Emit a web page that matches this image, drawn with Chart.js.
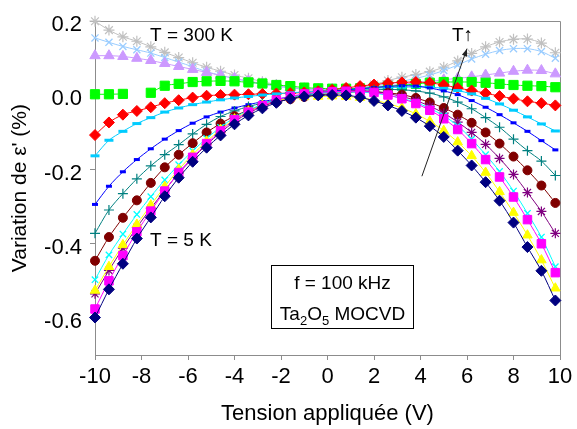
<!DOCTYPE html>
<html>
<head>
<meta charset="utf-8">
<script src="https://cdn.jsdelivr.net/npm/chart.js@4"></script>
<style>
  html, body { margin: 0; padding: 0; background: #fff; }
  canvas { display: block; }
</style>
</head>
<body>
<canvas id="chart" width="577" height="429"></canvas>
<script>
// applied voltage (V)
const tension = [-10, -9.4, -8.8, -8.2, -7.6, -7.0, -6.4, -5.8, -5.2, -4.6, -4.0, -3.4,
  -2.8, -2.2, -1.6, -1.0, -0.4, 0.2, 0.8, 1.4, 2.0, 2.6, 3.2, 3.8, 4.4, 5.0, 5.6, 6.2,
  6.8, 7.4, 8.0, 8.6, 9.2, 9.8];

const xTicks = [-10, -8, -6, -4, -2, 0, 2, 4, 6, 8, 10];
const yTicks = [-0.6, -0.4, -0.2, 0, 0.2];

// variation of eps' (%), from T = 5 K (s1) up to T = 300 K (s14)
const s1 = [-0.599, -0.523, -0.454, -0.386, -0.329, -0.272, -0.222, -0.179, -0.141, -0.108,
  -0.078, -0.054, -0.035, -0.020, -0.009, -0.003, 0.000, 0.001, 0.000, -0.005,
  -0.015, -0.027, -0.042, -0.060, -0.083, -0.112, -0.149, -0.189, -0.234, -0.284,
  -0.343, -0.409, -0.473, -0.553];
const s2 = [-0.576, -0.500, -0.432, -0.368, -0.312, -0.258, -0.208, -0.167, -0.130, -0.096,
  -0.066, -0.045, -0.028, -0.013, -0.003, 0.004, 0.008, 0.010, 0.011, 0.011,
  0.008, 0.001, -0.009, -0.022, -0.040, -0.063, -0.092, -0.130, -0.173, -0.220,
  -0.274, -0.335, -0.400, -0.478];
const s3 = [-0.526, -0.462, -0.403, -0.348, -0.296, -0.246, -0.200, -0.160, -0.124, -0.092,
  -0.064, -0.043, -0.027, -0.015, -0.007, -0.004, -0.003, -0.002, -0.003, -0.006,
  -0.013, -0.022, -0.034, -0.050, -0.070, -0.095, -0.126, -0.163, -0.208, -0.260,
  -0.316, -0.377, -0.444, -0.520];
const s4 = [-0.497, -0.430, -0.374, -0.321, -0.273, -0.228, -0.187, -0.150, -0.116, -0.086,
  -0.060, -0.040, -0.024, -0.013, -0.005, 0.002, 0.006, 0.008, 0.009, 0.009,
  0.006, 0.000, -0.008, -0.019, -0.035, -0.055, -0.082, -0.118, -0.160, -0.205,
  -0.258, -0.318, -0.382, -0.462];
const s5 = [-0.535, -0.472, -0.412, -0.356, -0.305, -0.256, -0.210, -0.170, -0.133, -0.100,
  -0.071, -0.048, -0.030, -0.016, -0.005, 0.002, 0.007, 0.010, 0.012, 0.012,
  0.010, 0.005, -0.003, -0.014, -0.029, -0.048, -0.072, -0.100, -0.132, -0.170,
  -0.213, -0.262, -0.313, -0.372];
const s6 = [-0.446, -0.382, -0.330, -0.283, -0.236, -0.194, -0.160, -0.129, -0.100, -0.076,
  -0.056, -0.040, -0.028, -0.018, -0.010, -0.004, 0.001, 0.005, 0.008, 0.010,
  0.010, 0.007, 0.002, -0.007, -0.019, -0.034, -0.052, -0.074, -0.100, -0.130,
  -0.165, -0.202, -0.243, -0.290];
const s7 = [-0.372, -0.309, -0.265, -0.225, -0.190, -0.160, -0.133, -0.104, -0.078, -0.057,
  -0.042, -0.030, -0.021, -0.013, -0.006, 0.000, 0.005, 0.009, 0.012, 0.014,
  0.015, 0.016, 0.015, 0.012, 0.006, -0.004, -0.018, -0.036, -0.060, -0.086,
  -0.118, -0.149, -0.177, -0.216];
const s8 = [-0.294, -0.245, -0.206, -0.173, -0.144, -0.118, -0.095, -0.075, -0.058, -0.045,
  -0.034, -0.025, -0.017, -0.010, -0.004, 0.002, 0.007, 0.011, 0.015, 0.018,
  0.021, 0.024, 0.026, 0.025, 0.020, 0.012, 0.002, -0.014, -0.032, -0.052,
  -0.074, -0.097, -0.122, -0.147];
const s9 = [-0.163, -0.121, -0.097, -0.076, -0.060, -0.045, -0.034, -0.025, -0.018, -0.012,
  -0.007, -0.003, 0.001, 0.004, 0.007, 0.009, 0.011, 0.013, 0.015, 0.017,
  0.019, 0.021, 0.022, 0.023, 0.022, 0.019, 0.013, 0.004, -0.008, -0.023,
  -0.040, -0.058, -0.077, -0.096];
const s10 = [-0.107, -0.073, -0.052, -0.042, -0.032, -0.021, -0.013, -0.006, -0.001, 0.001,
  0.002, 0.003, 0.004, 0.005, 0.006, 0.008, 0.011, 0.015, 0.020, 0.025,
  0.029, 0.033, 0.035, 0.036, 0.034, 0.028, 0.020, 0.013, 0.006, -0.002,
  -0.009, -0.016, -0.021, -0.027];
const s11 = [0.003, 0.003, 0.004, null, 0.007, 0.026, 0.031, 0.036, 0.038, 0.039,
  0.038, 0.035, 0.032, 0.028, 0.025, 0.021, 0.019, 0.018, 0.018, 0.019,
  0.021, 0.024, 0.027, 0.031, 0.034, 0.036, 0.036, 0.036, 0.034, 0.031,
  0.028, 0.026, 0.025, 0.022];
const s12 = [0.107, 0.107, 0.105, 0.100, 0.094, 0.086, 0.078, 0.070, 0.062, 0.054,
  0.046, 0.039, 0.032, 0.026, 0.021, 0.018, 0.016, 0.016, 0.017, 0.019,
  0.022, 0.026, 0.030, 0.034, 0.038, 0.042, 0.046, 0.050, 0.055, 0.060,
  0.065, 0.068, 0.067, 0.058];
const s13 = [0.155, 0.143, 0.132, 0.123, 0.114, 0.102, 0.090, 0.077, 0.064, 0.054,
  0.045, 0.037, 0.030, 0.024, 0.020, 0.017, 0.016, 0.016, 0.018, 0.021,
  0.025, 0.031, 0.038, 0.046, 0.055, 0.067, 0.082, 0.098, 0.111, 0.121,
  0.126, 0.126, 0.118, 0.100];
const s14 = [0.200, 0.176, 0.158, 0.146, 0.131, 0.116, 0.102, 0.088, 0.076, 0.065,
  0.055, 0.046, 0.037, 0.029, 0.022, 0.016, 0.012, 0.011, 0.013, 0.019,
  0.029, 0.040, 0.049, 0.056, 0.064, 0.076, 0.093, 0.113, 0.131, 0.144,
  0.151, 0.152, 0.141, 0.115];

const series = [s1, s2, s3, s4, s5, s6, s7, s8, s9, s10, s11, s12, s13, s14];

// colour, marker, marker radius, marker line width
const looks = [
  ['#000080', 'rectRot', 5.5, 1],
  ['#FF00FF', 'rect', 6, 1],
  ['#FFFF00', 'triangle', 5.5, 1],
  ['#00FFFF', 'crossRot', 4.5, 1.3],
  ['#800080', 'star', 5, 1.2],
  ['#800000', 'circle', 4.5, 1],
  ['#008080', 'cross', 5, 1.2],
  ['#0000FF', 'line', 3, 3],
  ['#00CCFF', 'line', 4.5, 3],
  ['#FF0000', 'rectRot', 5.5, 1],
  ['#00FF00', 'rect', 6.5, 1],
  ['#CC99FF', 'triangle', 6, 1],
  ['#99CCFF', 'crossRot', 5, 1.3],
  ['#C0C0C0', 'star', 5.5, 1.2]
];

const fontFamily = "'Liberation Sans', Arial, sans-serif";
const axisColor = '#8c8c8c';
Chart.defaults.font.family = fontFamily;
Chart.defaults.color = '#000';

const datasets = series.map((vals, i) => {
  const [color, marker, radius, lw] = looks[i];
  return {
    label: 'serie ' + (i + 1),
    data: vals.map((v, k) => ({ x: tension[k], y: v })),
    borderColor: color,
    backgroundColor: color,
    borderWidth: 1,
    pointStyle: marker,
    pointRadius: radius,
    pointBorderWidth: lw,
    pointBackgroundColor: color,
    pointBorderColor: color,
    tension: 0.3,
    spanGaps: false,
    clip: false
  };
});

const annotate = {
  id: 'annotate',
  beforeDatasetsDraw(chart) {
    const { ctx, chartArea: a } = chart;
    ctx.save();
    ctx.strokeStyle = axisColor;
    ctx.lineWidth = 1;
    ctx.beginPath();
    ctx.moveTo(a.left, Math.round(a.top) + 0.5);
    ctx.lineTo(Math.round(a.right) + 0.5, Math.round(a.top) + 0.5);
    ctx.lineTo(Math.round(a.right) + 0.5, a.bottom);
    ctx.stroke();
    ctx.restore();
  },
  afterDraw(chart) {
    const { ctx, scales: { x, y } } = chart;
    ctx.save();
    ctx.fillStyle = '#000';
    ctx.font = '19px ' + fontFamily;
    ctx.textBaseline = 'middle';
    ctx.textAlign = 'left';
    ctx.fillText('T = 300 K', x.getPixelForValue(-7.63), y.getPixelForValue(0.160));
    ctx.fillText('T = 5 K', x.getPixelForValue(-7.63), y.getPixelForValue(-0.393));
    ctx.fillText('T\u2191', x.getPixelForValue(5.35), y.getPixelForValue(0.162));

    // arrow
    const x0 = x.getPixelForValue(4.06), y0 = y.getPixelForValue(-0.218);
    const x1 = x.getPixelForValue(6.0), y1 = y.getPixelForValue(0.126);
    ctx.strokeStyle = '#222';
    ctx.lineWidth = 1;
    ctx.beginPath();
    ctx.moveTo(x0, y0);
    ctx.lineTo(x1, y1);
    ctx.stroke();
    const ang = Math.atan2(y1 - y0, x1 - x0);
    ctx.fillStyle = '#222';
    ctx.beginPath();
    ctx.moveTo(x1, y1);
    ctx.lineTo(x1 - 8 * Math.cos(ang - 0.35), y1 - 8 * Math.sin(ang - 0.35));
    ctx.lineTo(x1 - 8 * Math.cos(ang + 0.35), y1 - 8 * Math.sin(ang + 0.35));
    ctx.closePath();
    ctx.fill();

    // box
    const bx0 = Math.round(x.getPixelForValue(-2.43)) + 0.5;
    const bx1 = Math.round(x.getPixelForValue(3.68)) + 0.5;
    const by0 = Math.round(y.getPixelForValue(-0.456)) + 0.5;
    const by1 = Math.round(y.getPixelForValue(-0.626)) + 0.5;
    ctx.fillStyle = '#fff';
    ctx.fillRect(bx0, by0, bx1 - bx0, by1 - by0);
    ctx.strokeStyle = '#000';
    ctx.strokeRect(bx0, by0, bx1 - bx0, by1 - by0);
    const cx = (bx0 + bx1) / 2;
    ctx.fillStyle = '#000';
    ctx.textAlign = 'center';
    ctx.fillText('f = 100 kHz', cx, y.getPixelForValue(-0.507));

    const parts = [['Ta', false], ['2', true], ['O', false], ['5', true], [' MOCVD', false]];
    const big = '19px ' + fontFamily, small = '13px ' + fontFamily;
    let w = 0;
    parts.forEach(([t, sub]) => { ctx.font = sub ? small : big; w += ctx.measureText(t).width; });
    let px = cx - w / 2;
    const base = y.getPixelForValue(-0.586) + 7;
    ctx.textAlign = 'left';
    ctx.textBaseline = 'alphabetic';
    parts.forEach(([t, sub]) => {
      ctx.font = sub ? small : big;
      ctx.fillText(t, px, sub ? base + 5 : base);
      px += ctx.measureText(t).width;
    });
    ctx.restore();
  }
};

new Chart(document.getElementById('chart'), {
  type: 'line',
  data: { datasets },
  options: {
    responsive: false,
    animation: false,
    layout: { padding: { top: 15, right: 17, left: 0, bottom: 0 } },
    plugins: { legend: { display: false }, tooltip: { enabled: false } },
    scales: {
      x: {
        type: 'linear',
        min: -10,
        max: 10,
        afterBuildTicks: s => { s.ticks = xTicks.map(v => ({ value: v })); },
        afterFit: s => { s.height = 74; },
        grid: { drawOnChartArea: false, tickLength: 5, color: axisColor },
        border: { color: axisColor },
        ticks: { font: { size: 22 }, color: '#000', padding: 4, autoSkip: false, maxRotation: 0 },
        title: { display: true, text: 'Tension appliquée (V)', font: { size: 22 }, color: '#000', padding: { top: 0, bottom: 2 } }
      },
      y: {
        type: 'linear',
        min: -0.7,
        max: 0.2,
        afterBuildTicks: s => { s.ticks = yTicks.map(v => ({ value: v })); },
        afterFit: s => { s.width = 95; },
        grid: { drawOnChartArea: false, tickLength: 5, color: axisColor },
        border: { color: axisColor },
        ticks: { font: { size: 22 }, color: '#000', padding: 8, autoSkip: false, labelOffset: 4,
          callback: v => v.toFixed(1) },
        title: { display: true, text: "Variation de ε' (%)", font: { size: 21 }, color: '#000', padding: { top: 8, bottom: 0 } }
      }
    }
  },
  plugins: [annotate]
});
</script>
</body>
</html>
